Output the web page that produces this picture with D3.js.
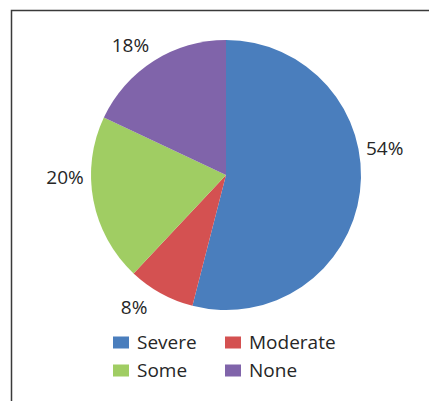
<!DOCTYPE html>
<html>
<head>
<meta charset="utf-8">
<script src="https://cdn.jsdelivr.net/npm/d3@7"></script>
<style>
  body { margin: 0; background: #fff; }
  text { font-family: "Open Sans", "Noto Sans", sans-serif; fill: #262626; }
</style>
</head>
<body>
<svg id="chart" width="429" height="401"></svg>
<script>
// data
const categories = ["Severe", "Moderate", "Some", "None"];
const values = [54, 8, 20, 18];
const colors = ["#4a7ebd", "#d45151", "#a0cd63", "#8064aa"];

// excel "best fit" puts the labels a bit off the mid angle, nudge them (degrees)
const labelNudge = [-17, 6, 10, -4];

const svg = d3.select("#chart");
const W = 429, H = 401;
const cx = 226, cy = 175, r = 135;

// frame (only top and left edges are in view)
svg.append("path")
  .attr("d", `M11.5,${H} L11.5,10.5 L${W},10.5`)
  .attr("fill", "none")
  .attr("stroke", "#3a3a3a")
  .attr("stroke-width", 1.5);

const pie = d3.pie().sort(null).value(d => d.v);
const arcs = pie(categories.map((c, i) => ({c, v: values[i], i})));
const arc = d3.arc().innerRadius(0).outerRadius(r);

const g = svg.append("g").attr("transform", `translate(${cx},${cy})`);

g.selectAll("path.slice")
  .data(arcs)
  .join("path")
  .attr("class", "slice")
  .attr("d", arc)
  .attr("fill", d => colors[d.data.i]);

// percent labels
const total = d3.sum(values);
const labelR = 161;
g.selectAll("text.lbl")
  .data(arcs)
  .join("text")
  .attr("class", "lbl")
  .attr("x", d => {
    const a = (d.startAngle + d.endAngle) / 2 + labelNudge[d.data.i] * Math.PI / 180;
    return Math.sin(a) * labelR;
  })
  .attr("y", d => {
    const a = (d.startAngle + d.endAngle) / 2 + labelNudge[d.data.i] * Math.PI / 180;
    return -Math.cos(a) * labelR;
  })
  .attr("text-anchor", "middle")
  .attr("dominant-baseline", "central")
  .attr("font-size", 19)
  .text(d => Math.round(d.data.v / total * 100) + "%");

// legend, 2 columns
const legX = d3.scaleOrdinal().domain([0, 1]).range([113, 225]);
const legY = d3.scaleOrdinal().domain([0, 1]).range([349, 377]);
const leg = svg.append("g");
const items = leg.selectAll("g")
  .data(categories)
  .join("g")
  .attr("transform", (d, i) => `translate(${legX(i % 2)},${legY(Math.floor(i / 2))})`);
items.append("rect")
  .attr("x", 0).attr("y", -12.5)
  .attr("width", 16).attr("height", 12)
  .attr("fill", (d, i) => colors[i]);
items.append("text")
  .attr("x", 24)
  .attr("y", 0)
  .attr("font-size", 19)
  .text(d => d);
</script>
</body>
</html>
